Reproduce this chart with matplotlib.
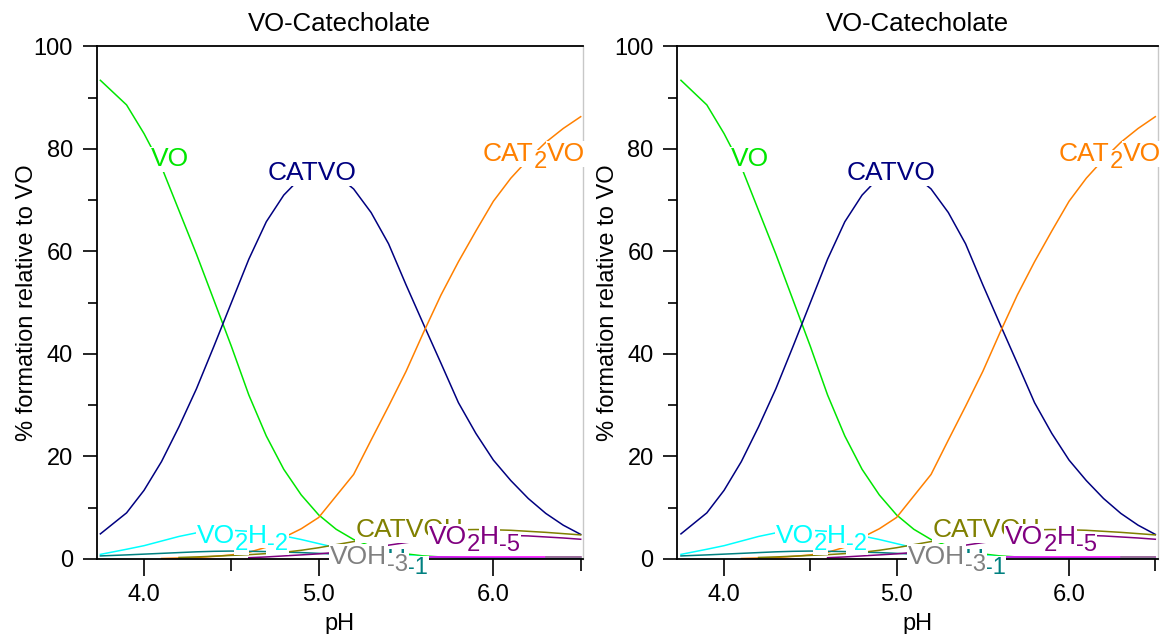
import matplotlib
matplotlib.use('Agg')
import matplotlib.pyplot as plt
import numpy as np
from matplotlib.ticker import MultipleLocator, FormatStrFormatter

plt.rcParams['font.family'] = ['Liberation Sans', 'DejaVu Sans']

# pH grid
ph = [3.75, 3.9, 4.0, 4.1, 4.2, 4.3, 4.4, 4.5, 4.6, 4.7, 4.8, 4.9, 5.0, 5.1,
      5.2, 5.3, 5.4, 5.5, 5.6, 5.7, 5.8, 5.9, 6.0, 6.1, 6.2, 6.3, 6.4, 6.5]
nan = np.nan

vo = [93.4, 88.6, 83.0, 76.5, 68.0, 59.5, 50.5, 41.5, 32.0, 24.0, 17.5, 12.5, 8.6, 5.8,
      3.8, 2.5, 1.6, 1.0, 0.6, 0.4, 0.25, 0.15, 0.1, 0.08, 0.06, 0.05, 0.05, 0.05]
catvo = [4.9, 9.0, 13.4, 19.0, 25.8, 33.2, 41.5, 50.0, 58.5, 65.8, 71.0, 74.5, 75.8, 75.0,
         72.2, 67.6, 61.5, 53.5, 45.8, 38.2, 30.5, 24.5, 19.3, 15.3, 11.8, 8.9, 6.6, 4.8]
cat2vo = [nan, nan, nan, 0.1, 0.2, 0.3, 0.5, 0.8, 1.3, 2.3, 4.2, 5.9, 8.1, 12.3,
          16.5, 23.2, 29.8, 36.6, 44.2, 51.5, 58.0, 64.0, 69.8, 74.3, 78.0, 81.3, 84.0, 86.3]
vo2h_2 = [0.9, 1.9, 2.6, 3.5, 4.4, 5.1, 5.5, 5.6, 5.4, 5.0, 4.5, 3.8, 3.0, 2.2,
          1.6, 1.1, 0.8, 0.6, 0.45, 0.35, 0.3, 0.25, 0.2, 0.15, 0.12, 0.1, 0.1, 0.1]
voh_1 = [0.6, 0.8, 0.95, 1.1, 1.25, 1.4, 1.5, 1.55, 1.5, 1.45, 1.35, 1.25, 1.1, 0.95,
         0.8, 0.65, 0.55, 0.45, 0.4, 0.35, 0.3, 0.25, 0.2, 0.18, 0.15, 0.12, 0.1, 0.1]
catvoh = [nan, nan, nan, nan, 0.3, 0.4, 0.55, 0.7, 0.85, 1.05, 1.3, 1.7, 2.2, 2.8,
          3.4, 4.0, 4.5, 5.0, 5.3, 5.6, 5.7, 5.75, 5.7, 5.6, 5.4, 5.2, 4.95, 4.7]
vo2h_5 = [nan, nan, nan, nan, nan, nan, nan, nan, 0.25, 0.4, 0.6, 0.8, 1.0, 1.3,
          1.7, 2.2, 2.7, 3.2, 3.6, 4.0, 4.3, 4.5, 4.6, 4.6, 4.5, 4.3, 4.1, 3.85]
magenta = [nan, nan, nan, nan, nan, nan, nan, nan, nan, nan, nan, nan, nan, nan,
           nan, nan, 0.3, 0.35, 0.4, 0.4, 0.4, 0.4, 0.4, 0.4, 0.4, 0.4, 0.4, 0.4]
voh_3 = [nan, nan, nan, nan, nan, nan, nan, nan, nan, nan, nan, nan, nan, nan,
         nan, nan, nan, nan, nan, nan, nan, nan, nan, nan, nan, 0.35, 0.35, 0.35]

series = [
    (vo, '#00e600'),
    (catvo, '#000080'),
    (cat2vo, '#ff8000'),
    (vo2h_2, '#00ffff'),
    (voh_1, '#008080'),
    (catvoh, '#808000'),
    (vo2h_5, '#800080'),
    (magenta, '#ff00ff'),
    (voh_3, '#808080'),
]

# label pieces (text, is subscript), left x (pH), baseline y (%), colour
labels = [
    ([('VO', 0)], 4.04, 76.6, '#00e600'),
    ([('CATVO', 0)], 4.71, 74.0, '#000080'),
    ([('CAT', 0), ('2', 1), ('VO', 0)], 5.94, 77.7, '#ff8000'),
    ([('VO', 0), ('2', 1), ('H', 0), ('-2', 1)], 4.30, 3.2, '#00ffff'),
    ([('CATVOH', 0)], 5.21, 4.2, '#808000'),
    ([('VOH', 0), ('-1', 1)], 5.18, -1.6, '#008080'),
    ([('VOH', 0), ('-3', 1)], 5.065, -1.0, '#808080'),
    ([('VO', 0), ('2', 1), ('H', 0), ('-5', 1)], 5.63, 3.0, '#800080'),
]


def put_label(ax, x, y, parts, color, size=19):
    prev = None
    prev_shift = 0
    for s, sub in parts:
        shift = -5 if sub else 0
        kw = dict(color=color, fontsize=size * 0.9 if sub else size,
                  textcoords='offset points', ha='left', annotation_clip=False, zorder=5,
                  bbox=dict(facecolor='white', edgecolor='none', pad=0.5))
        if prev is None:
            prev = ax.annotate(s, (x, y), xytext=(0, shift), va='baseline', **kw)
        else:
            prev = ax.annotate(s, (1, 0), xycoords=prev, xytext=(0, shift - prev_shift),
                               va='bottom', **kw)
        prev_shift = shift


def draw_panel(ax):
    for vals, col in series:
        ax.plot(ph, vals, color=col, lw=1.1)
    for parts, x, y, col in labels:
        put_label(ax, x, y, parts, col)
    ax.set_xlim(3.729, 6.513)
    ax.set_ylim(0, 100)
    ax.xaxis.set_major_locator(MultipleLocator(1.0))
    ax.xaxis.set_minor_locator(MultipleLocator(0.5))
    ax.xaxis.set_major_formatter(FormatStrFormatter('%.1f'))
    ax.yaxis.set_major_locator(MultipleLocator(20))
    ax.yaxis.set_minor_locator(MultipleLocator(10))
    ax.tick_params(axis='x', which='major', direction='out', length=12, width=1.2,
                   labelsize=17, pad=6)
    ax.tick_params(axis='x', which='minor', direction='out', length=8.5, width=1.2)
    ax.tick_params(axis='y', which='major', direction='out', length=10, width=1.2,
                   labelsize=17, pad=7)
    ax.tick_params(axis='y', which='minor', direction='out', length=6.5, width=1.2)
    for s in ['left', 'bottom', 'top']:
        ax.spines[s].set_linewidth(1.3)
        ax.spines[s].set_color('black')
    ax.spines['right'].set_color('#c8c8c8')
    ax.spines['right'].set_linewidth(1.0)
    ax.set_title('VO-Catecholate', fontsize=18.5, pad=11)
    ax.set_xlabel('pH', fontsize=17)
    ax.set_ylabel('% formation relative to VO', fontsize=17)
    ax.xaxis.set_label_coords(0.5, -0.105)
    ax.yaxis.set_label_coords(-0.121, 0.5)


fig = plt.figure(figsize=(11.65, 6.34), dpi=100)
ax1 = fig.add_axes([0.0830, 0.1183, 0.4174, 0.8084])
ax2 = fig.add_axes([0.5814, 0.1183, 0.4122, 0.8084])
draw_panel(ax1)
draw_panel(ax2)

fig.savefig('out.png', dpi=100)
